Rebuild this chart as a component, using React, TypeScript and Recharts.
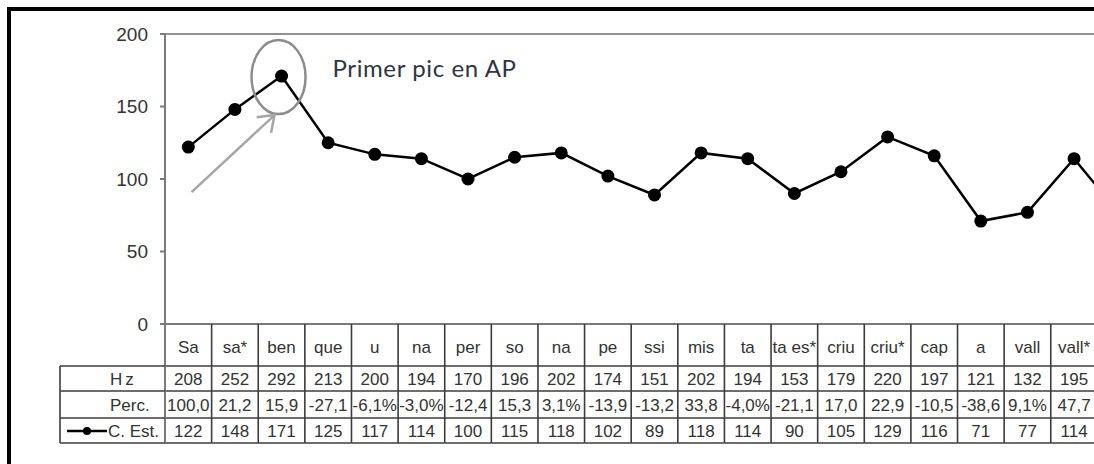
import React from 'react';
import { LineChart, Line, XAxis, YAxis, ReferenceLine, ReferenceDot } from 'recharts';

// syllables of the phrase (last column is cut off by the picture's right edge)
const syllables = ['Sa', 'sa*', 'ben', 'que', 'u', 'na', 'per', 'so', 'na', 'pe', 'ssi', 'mis', 'ta', 'ta es*', 'criu', 'criu*', 'cap', 'a', 'vall', 'vall*', ''];
const hzValues = ['208', '252', '292', '213', '200', '194', '170', '196', '202', '174', '151', '202', '194', '153', '179', '220', '197', '121', '132', '195', ''];
const percValues = ['100,0', '21,2', '15,9', '-27,1', '-6,1%', '-3,0%', '-12,4', '15,3', '3,1%', '-13,9', '-13,2', '33,8', '-4,0%', '-21,1', '17,0', '22,9', '-10,5', '-38,6', '9,1%', '47,7', ''];
const cEstValues = [122, 148, 171, 125, 117, 114, 100, 115, 118, 102, 89, 118, 114, 90, 105, 129, 116, 71, 77, 114, 75];
const yTicks = [0, 50, 100, 150, 200];

const data = syllables.map((s, i) => ({ key: i, cEst: cEstValues[i] }));

const CHART_W = 1144;
const CHART_H = 464;
const AXIS_W = 165;
const TOP = 34;
const X_AXIS_H = 130;
const BOTTOM = 10;
const BAND = (CHART_W - AXIS_W) / syllables.length;

// table rows, relative to the x axis line
const ROW_HZ = 42;
const ROW_PERC = 67;
const ROW_EST = 94;
const ROW_END = 119;
const HEAD_W = 105;

const gridStroke = '#3c3c3c';
const textStyle = { fontFamily: 'Arial, "Liberation Sans", sans-serif', fontSize: 17, fill: '#333' };

const TableTick = (props: any) => {
  const { x, y, payload } = props;
  const i = Number(payload.value);
  const l = x - BAND / 2;
  const r = x + BAND / 2;
  return (
    <g>
      {[ROW_HZ, ROW_PERC, ROW_EST, ROW_END].map((dy) => (
        <line key={dy} x1={l} x2={r} y1={y + dy} y2={y + dy} stroke={gridStroke} strokeWidth={1.6} />
      ))}
      <line x1={r} x2={r} y1={y} y2={y + ROW_END} stroke={gridStroke} strokeWidth={1.6} />
      {i === 0 && (
        <g>
          <line x1={l} x2={l} y1={y} y2={y + ROW_END} stroke="#7a7a7a" strokeWidth={2} />
          {[ROW_HZ, ROW_PERC, ROW_EST, ROW_END].map((dy) => (
            <line key={dy} x1={l - HEAD_W} x2={l} y1={y + dy} y2={y + dy} stroke={gridStroke} strokeWidth={1.6} />
          ))}
          <line x1={l - HEAD_W} x2={l - HEAD_W} y1={y + ROW_HZ} y2={y + ROW_END} stroke={gridStroke} strokeWidth={1.6} />
          <text x={l - 55} y={y + 61} {...textStyle} letterSpacing={3}>Hz</text>
          <text x={l - 55} y={y + 87} {...textStyle}>Perc.</text>
          <line x1={l - 98} x2={l - 58} y1={y + 107} y2={y + 107} stroke="#000" strokeWidth={2.5} />
          <circle cx={l - 78} cy={y + 107} r={4} fill="#000" />
          <text x={l - 57} y={y + 113} {...textStyle}>C. Est.</text>
        </g>
      )}
      <text x={x} y={y + 29} textAnchor="middle" {...textStyle}>{syllables[i]}</text>
      <text x={x} y={y + 61} textAnchor="middle" {...textStyle}>{hzValues[i]}</text>
      <text x={x} y={y + 87} textAnchor="middle" {...textStyle}>{percValues[i]}</text>
      <text x={x} y={y + 113} textAnchor="middle" {...textStyle}>{i < syllables.length - 1 ? cEstValues[i] : ''}</text>
    </g>
  );
};

const PeakNote = (props: any) => {
  const { cx, cy } = props;
  const sx = cx - 90;
  const sy = cy + 116;
  const tx = cx - 7;
  const ty = cy + 39;
  const ang = Math.atan2(ty - sy, tx - sx);
  const head = 18;
  const spread = (36 * Math.PI) / 180;
  const h1x = tx - head * Math.cos(ang - spread);
  const h1y = ty - head * Math.sin(ang - spread);
  const h2x = tx - head * Math.cos(ang + spread);
  const h2y = ty - head * Math.sin(ang + spread);
  return (
    <g>
      <ellipse cx={cx - 3} cy={cy + 1} rx={27} ry={37} fill="none" stroke="#8c8c8c" strokeWidth={2.5} />
      <line x1={sx} y1={sy} x2={tx} y2={ty} stroke="#a6a6a6" strokeWidth={2.5} />
      <polyline points={`${h1x},${h1y} ${tx},${ty} ${h2x},${h2y}`} fill="none" stroke="#a6a6a6" strokeWidth={2.5} />
      <text x={cx + 51} y={cy + 1} fontFamily="Lato, 'Open Sans', sans-serif" fontSize={24} letterSpacing={0.6} fill="#2f3542">
        Primer pic en AP
      </text>
    </g>
  );
};

export default function App() {
  return (
    <div style={{ position: 'absolute', left: 0, top: 0, width: 1094, height: 464, overflow: 'hidden', background: '#fff' }}>
      <div style={{ position: 'absolute', left: 7, top: 7, width: 1300, height: 700, border: '4px solid #000', boxSizing: 'border-box' }} />
      <div style={{ position: 'absolute', left: 0, top: 0 }}>
        <LineChart width={CHART_W} height={CHART_H} data={data} margin={{ top: TOP, right: 0, bottom: BOTTOM, left: 0 }}>
          <ReferenceLine y={200} stroke="#6e6e6e" strokeWidth={1.5} />
          <XAxis
            dataKey="key"
            type="category"
            scale="band"
            height={X_AXIS_H}
            interval={0}
            tickLine={false}
            tickSize={0}
            tickMargin={0}
            axisLine={{ stroke: '#7a7a7a', strokeWidth: 2 }}
            tick={<TableTick />}
          />
          <YAxis
            width={AXIS_W}
            domain={[0, 200]}
            ticks={yTicks}
            interval={0}
            tickSize={5}
            tickMargin={12}
            axisLine={{ stroke: '#7a7a7a', strokeWidth: 2 }}
            tickLine={{ stroke: '#7a7a7a', strokeWidth: 2 }}
            tick={{ fill: '#333', fontSize: 19, fontFamily: 'Arial, "Liberation Sans", sans-serif' }}
          />
          <Line
            dataKey="cEst"
            stroke="#000"
            strokeWidth={2.5}
            dot={{ r: 6.5, fill: '#000', stroke: '#000', strokeWidth: 0 }}
            isAnimationActive={false}
          />
          <ReferenceDot x={2} y={cEstValues[2]} r={0} shape={<PeakNote />} />
        </LineChart>
      </div>
    </div>
  );
}
